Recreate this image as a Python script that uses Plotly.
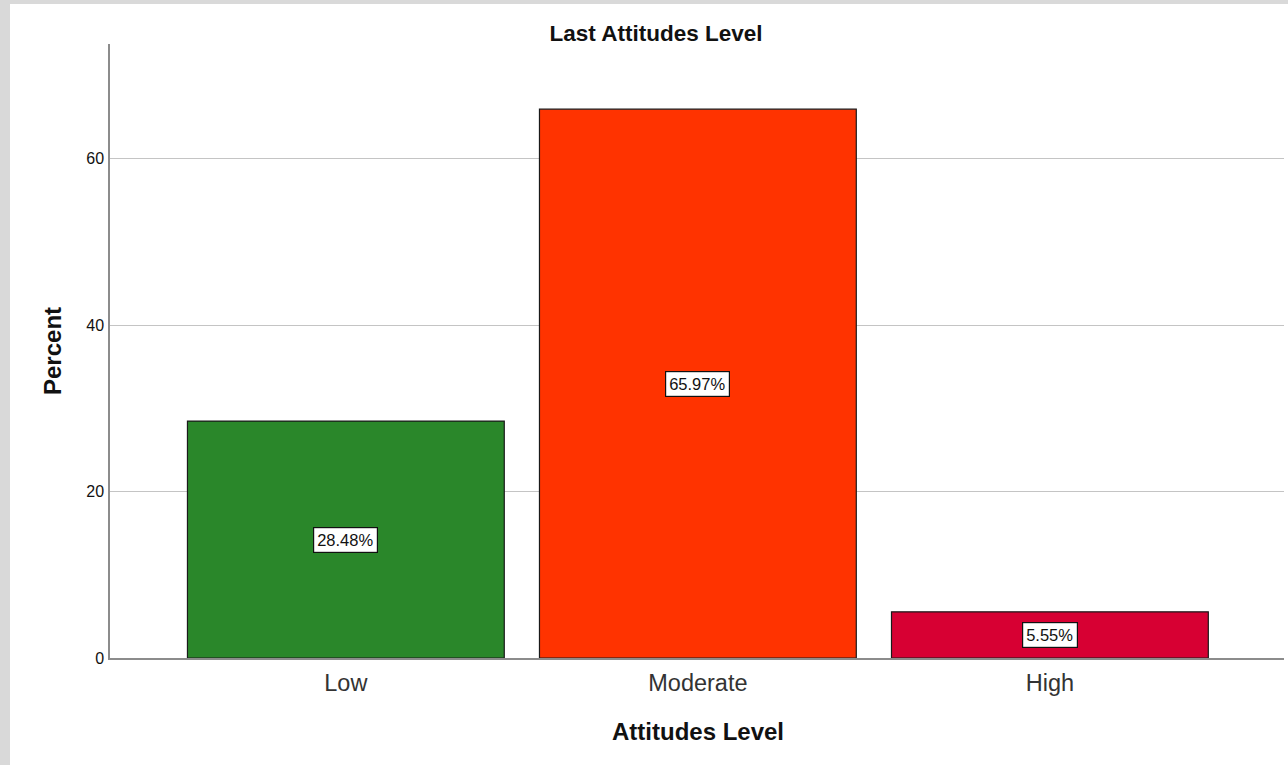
import plotly.graph_objects as go

categories = ["Low", "Moderate", "High"]
percents = [28.48, 65.97, 5.55]
bar_colors = ["#2A872A", "#FF3300", "#D70033"]
label_texts = ["28.48%", "65.97%", "5.55%"]
y_ticks = [0, 20, 40, 60]

W, H = 1288, 765
L, R, T, B = 110, 4, 44, 107
pw = W - L - R
ph = H - T - B
FONT = "Liberation Sans, Arial, sans-serif"

fig = go.Figure()
fig.add_trace(go.Bar(
    x=list(range(len(categories))), y=percents, width=0.9,
    marker=dict(color=bar_colors, line=dict(color="#1a1a1a", width=1.2)),
    hoverinfo="skip",
))

for i, (v, t) in enumerate(zip(percents, label_texts)):
    fig.add_annotation(x=i, y=v / 2, text=t, showarrow=False,
                       font=dict(family=FONT, size=16.5, color="#111"),
                       bgcolor="white", bordercolor="#111", borderwidth=1.2, borderpad=3)

# gray frame strips (left and top)
fig.add_shape(type="rect", xref="paper", yref="paper",
              x0=(0 - L) / pw, x1=(10 - L) / pw, y0=-(B + 5) / ph, y1=(ph + T + 5) / ph,
              fillcolor="#D9D9D9", line=dict(width=0), layer="below")
fig.add_shape(type="rect", xref="paper", yref="paper",
              x0=(0 - L) / pw, x1=(W - L + 5) / pw, y0=(ph + T - 4) / ph, y1=(ph + T + 5) / ph,
              fillcolor="#D9D9D9", line=dict(width=0), layer="below")

# axis titles
fig.add_annotation(xref="paper", yref="paper", x=(52 - L) / pw, y=0.5, text="<b>Percent</b>",
                   textangle=-90, showarrow=False, xanchor="center", yanchor="middle",
                   font=dict(family=FONT, size=24, color="#111"))
fig.add_annotation(xref="paper", yref="paper", x=(698 - L) / pw, y=-(731 - (T + ph)) / ph,
                   text="<b>Attitudes Level</b>", showarrow=False, xanchor="center", yanchor="middle",
                   font=dict(family=FONT, size=24, color="#111"))

fig.update_layout(
    width=W, height=H,
    margin=dict(l=L, r=R, t=T, b=B),
    paper_bgcolor="white", plot_bgcolor="white",
    showlegend=False,
    title=dict(text="<b>Last Attitudes Level</b>", x=656 / W, xanchor="center", xref="container",
               y=1 - 33 / H, yanchor="middle", yref="container",
               font=dict(family=FONT, size=22.5, color="#111")),
    xaxis=dict(
        range=[-0.67, 2.665], tickmode="array", tickvals=list(range(len(categories))),
        ticktext=categories, showgrid=False, zeroline=False,
        showline=True, linecolor="#8c8c8c", linewidth=1.5, ticks="",
        tickfont=dict(family=FONT, size=23.5, color="#333"),
        ticklabelstandoff=3,
    ),
    yaxis=dict(
        range=[0, 73.8], tickmode="array", tickvals=y_ticks,
        showgrid=True, gridcolor="#C4C4C4", gridwidth=1.2, zeroline=False,
        showline=True, linecolor="#8c8c8c", linewidth=1.5, ticks="",
        tickfont=dict(family=FONT, size=16, color="#111"),
        ticklabelstandoff=1,
    ),
)

fig.write_html("out.html", config={"displayModeBar": False},
               post_script="document.body.style.margin='0';document.body.style.overflow='hidden';")
